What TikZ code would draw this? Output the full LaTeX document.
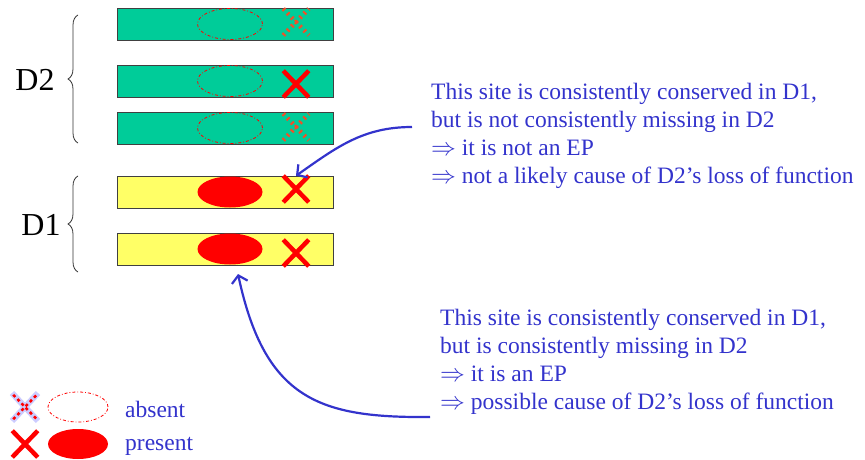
\documentclass[tikz,border=0pt]{standalone}
\usepackage{fontspec}
\setmainfont{Liberation Serif}
\usetikzlibrary{arrows.meta,shapes.geometric,shapes.misc,decorations.pathreplacing}
\definecolor{seqgreen}{RGB}{0,204,153}
\definecolor{seqyellow}{RGB}{255,255,102}
\definecolor{noteblue}{RGB}{51,51,204}
\definecolor{lavender}{RGB}{204,204,255}
\definecolor{dashred}{RGB}{240,80,40}
\tikzset{
  seqbar/.style={rectangle,draw=black!75,minimum width=216pt,minimum height=32pt,inner sep=0pt},
  siteon/.style={ellipse,fill=red,minimum width=65pt,minimum height=31pt,inner sep=0pt},
  siteoff/.style={ellipse,draw=red,line width=0.8pt,dash dot,minimum width=65pt,minimum height=31pt,inner sep=0pt},
  markon/.style={cross out,draw=red,line width=4.5pt,minimum width=21pt,minimum height=22pt,inner sep=0pt},
  markoff/.style={cross out,draw=dashred,line width=4.5pt,dash pattern=on 2pt off 4pt,minimum width=21pt,minimum height=22pt,inner sep=0pt},
  note/.style={text=noteblue,align=left,font=\fontsize{23.5}{28}\selectfont,anchor=north west,inner sep=0pt},
  pointer/.style={draw=noteblue,line width=2.2pt,-{Straight Barb[length=7pt,width=16pt,line width=2.2pt]}}
}
\begin{document}
\begin{tikzpicture}[x=1pt,y=1pt]
      \useasboundingbox (0,0) rectangle (865,-460);
      % sequence bars
      \begin{scope}[every node/.style={seqbar}]
        \node[fill=seqgreen] (bA) at (225,-24) {};
        \node[fill=seqgreen] (bB) at (225,-81) {};
        \node[fill=seqgreen] (bC) at (225,-128) {};
        \node[fill=seqyellow] (bD) at (225,-192) {};
        \node[fill=seqyellow] (bE) at (225,-249) {};
      \end{scope}
      % conserved site
      \node[siteoff] (eA) at (230,-24) {};
      \node[siteoff] (eB) at (230,-81) {};
      \node[siteoff] (eC) at (230,-128) {};
      \node[siteon] (eD) at (230,-192) {};
      \node[siteon] (eE) at (230,-249) {};
      % second site
      \node[markoff] (xA) at (296,-22) {};
      \node[markon] (xB) at (296,-84) {};
      \node[markoff] (xC) at (296,-127) {};
      \node[markon] (xD) at (296,-189) {};
      \node[markon] (xE) at (296,-253) {};
      % groups
      \node[font=\fontsize{32}{32}\selectfont] (dTwo) at (35,-80) {D2};
      \node[font=\fontsize{32}{32}\selectfont] (dOne) at (41,-225) {D1};
      \coordinate (gTwoA) at (78,-143);
      \coordinate (gTwoB) at (78,-15);
      \coordinate (gOneA) at (78,-272);
      \coordinate (gOneB) at (78,-176);
      \draw[black!80,thick,decorate,decoration={brace,amplitude=10pt}] (gTwoA) -- (gTwoB);
      \draw[black!80,thick,decorate,decoration={brace,amplitude=10pt}] (gOneA) -- (gOneB);
      % notes
      \node[note] (nTop) at (431,-83) {This site is consistently conserved in D1,\\
        but is not consistently missing in D2\\
        $\Rightarrow$ it is not an EP\\
        $\Rightarrow$ not a likely cause of D2's loss of function};
      \node[note] (nBot) at (440,-309) {This site is consistently conserved in D1,\\
        but is consistently missing in D2\\
        $\Rightarrow$ it is an EP\\
        $\Rightarrow$ possible cause of D2's loss of function};
      \coordinate (sTop) at (412,-127);
      \coordinate (sBot) at (430,-417);
      \coordinate (tBot) at (238,-274);
      \draw[pointer] (sTop) to[out=180,in=35] (xD.north);
      \draw[pointer] (sBot) .. controls (320,-418) and (265,-400) .. (tBot);
      % legend
      \node[cross out,draw=lavender,line width=6pt,minimum width=20pt,minimum height=22pt,inner sep=0pt] (lOffBg) at (25,-407) {};
      \node[markoff,draw=red,line width=2.5pt,dash pattern=on 3pt off 3pt] (lOff) at (25,-407) {};
      \node[siteoff,minimum width=60pt,minimum height=30pt] (lOffE) at (78,-407) {};
      \node[markon] (lOn) at (25,-444) {};
      \node[siteon,minimum width=60pt,minimum height=30pt] (lOnE) at (78,-444) {};
      \node[text=noteblue,font=\fontsize{23.5}{24}\selectfont,anchor=west,inner sep=0pt] (lOffT) at (125,-409) {absent};
      \node[text=noteblue,font=\fontsize{23.5}{24}\selectfont,anchor=west,inner sep=0pt] (lOnT) at (125,-446) {present};
    \end{tikzpicture}
\end{document}
